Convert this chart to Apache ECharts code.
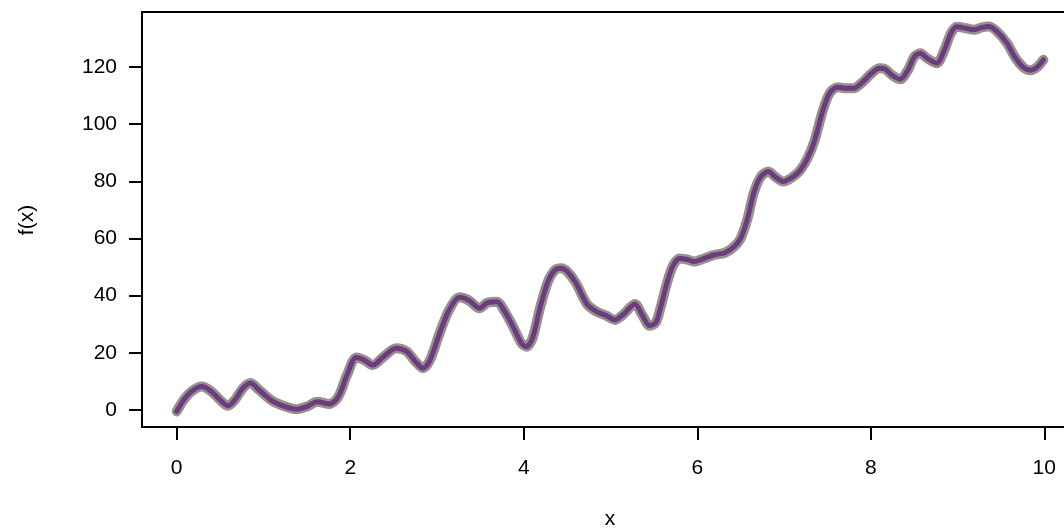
<!DOCTYPE html>
<html>
<head>
<meta charset="utf-8">
<script src="https://cdn.jsdelivr.net/npm/echarts@6/dist/echarts.min.js"></script>
<style>
html,body{margin:0;padding:0;background:#fff;}
#chart{width:1064px;height:529px;}
</style>
</head>
<body>
<div id="chart"></div>
<script>
var xValues = [0.00,0.08,0.17,0.29,0.40,0.50,0.59,0.67,0.76,0.85,0.95,1.10,1.25,1.38,1.50,1.62,1.76,1.86,1.96,2.07,2.16,2.26,2.38,2.53,2.65,2.75,2.84,2.92,3.03,3.14,3.26,3.37,3.49,3.58,3.69,3.78,3.88,3.97,4.03,4.10,4.19,4.28,4.36,4.43,4.50,4.60,4.73,4.84,4.95,5.05,5.15,5.28,5.37,5.45,5.52,5.57,5.65,5.72,5.80,5.90,5.96,6.08,6.19,6.32,6.42,6.50,6.58,6.65,6.73,6.82,6.90,6.99,7.10,7.19,7.27,7.35,7.45,7.53,7.62,7.72,7.80,7.90,8.00,8.10,8.16,8.25,8.34,8.43,8.50,8.57,8.65,8.76,8.85,8.92,8.99,9.10,9.19,9.28,9.36,9.45,9.57,9.66,9.76,9.84,9.92,9.99];
var fValues = [-0.5,3.5,6.5,8.2,6.5,3.5,1.5,3.5,7.5,9.4,7.0,3.2,1.2,0.3,1.2,2.9,2.1,4.5,12,18.4,17.5,15.7,18.5,21.6,20.5,17.0,14.6,17.5,26.8,35,39.4,38.3,35.6,37.5,37.9,34.5,29,23.5,22.1,25,36,45,49,49.6,48.5,44.5,37,34.4,33,31.5,33.5,37.1,33,29.5,30.5,35,44.3,50.5,53,52.5,51.9,53,54.2,55,57,60,67,75.8,81.5,83.4,81.5,79.9,81.5,84,88,94,105,111,112.9,112.5,112.5,114.5,117.5,119.5,119.3,117,115.7,119,123.5,124.8,123,121.3,126,131.5,134,133.5,133,133.8,134.1,132.5,128.3,123.5,119.8,118.8,120,122.5];
var xTicks = [0,2,4,6,8,10];
var yTicks = [0,20,40,60,80,100,120];
var xTitle = 'x';
var yTitle = 'f(x)';

var pts = xValues.map(function(x,i){return [x,fValues[i]];});
var FONT = 'Liberation Sans, Arial, Helvetica, sans-serif';

var chart = echarts.init(document.getElementById('chart'), null, {renderer:'canvas'});
chart.setOption({
  animation:false,
  backgroundColor:'#ffffff',
  grid:{left:142,top:12,width:937,height:415,show:true,borderColor:'#000',borderWidth:2,backgroundColor:'transparent',containLabel:false,outerBoundsMode:'none'},
  xAxis:{
    type:'value',min:-0.4,max:10.4,
    axisLine:{show:false,onZero:false},
    splitLine:{show:false},
    axisTick:{show:true,inside:false,length:13,customValues:xTicks,lineStyle:{color:'#000',width:2}},
    axisLabel:{show:true,customValues:xTicks,margin:31,color:'#000',fontSize:21,fontFamily:FONT}
  },
  yAxis:{
    type:'value',min:-5.95,max:139.2,
    axisLine:{show:false,onZero:false},
    splitLine:{show:false},
    axisTick:{show:true,inside:false,length:13,customValues:yTicks,lineStyle:{color:'#000',width:2}},
    axisLabel:{show:true,customValues:yTicks,margin:25,color:'#000',fontSize:21,fontFamily:FONT}
  },
  graphic:[
    {type:'text',x:610,y:519,style:{text:xTitle,fill:'#000',font:'21px '+FONT,textAlign:'center',textVerticalAlign:'middle'}},
    {type:'text',x:27,y:220,rotation:Math.PI/2,style:{text:yTitle,fill:'#000',font:'21px '+FONT,textAlign:'center',textVerticalAlign:'middle'}}
  ],
  series:[
    {type:'line',data:pts,smooth:0.3,showSymbol:false,symbol:'none',lineStyle:{color:'#9a908d',width:10,cap:'round',join:'round'},z:2},
    {type:'line',data:pts,smooth:0.3,showSymbol:false,symbol:'none',lineStyle:{color:'#6a3d80',width:5,cap:'round',join:'round'},z:3}
  ]
});
</script>
</body>
</html>
